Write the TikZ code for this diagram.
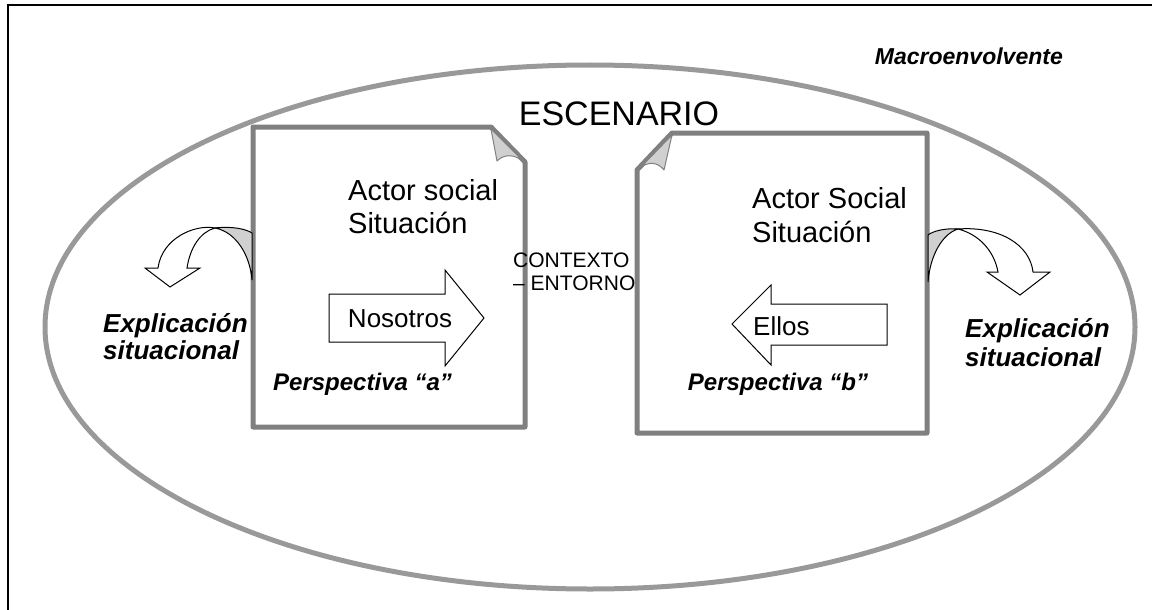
\documentclass[tikz,border=0pt]{standalone}
\usepackage{fontspec}
\setmainfont{Liberation Sans}
\usetikzlibrary{positioning}
\definecolor{griselipse}{HTML}{999999}
\definecolor{griscaja}{HTML}{808080}
\definecolor{grisclaro}{HTML}{D0D0D0}
\tikzset{
  caja/.style={draw=griscaja,line width=5pt,line join=round,fill=white},
  pliegue/.style={draw=griscaja,line width=1pt,fill=grisclaro,line join=round},
  lomo/.style={draw=black,line width=1pt,fill=grisclaro},
  flecha/.style={draw=black,line width=1pt,fill=white,line join=miter},
  texto/.style={inner sep=0pt,anchor=base west},
}
\newcommand{\tam}[1]{\fontsize{#1}{#1}\selectfont}

\begin{document}
\begin{tikzpicture}[x=1pt,y=-1pt]
  \useasboundingbox (0,0) rectangle (1152,610);
  \draw[line width=1.5pt] (8,610) -- (8,5) -- (1152,5);
  \draw[griselipse,line width=5pt] (590,327) ellipse [x radius=545pt,y radius=262pt];
  % actor a
  \draw[caja] (253,127) -- (491,127) -- (525,162) -- (525,427) -- (253,427) -- cycle;
  \draw[pliegue] (491,129) -- (497,161) .. controls (505,153) and (515,155) .. (523,161) -- cycle;
  % actor b
  \draw[caja] (637,170) -- (672,133) -- (927,133) -- (927,433) -- (637,433) -- cycle;
  \draw[pliegue] (672,135) -- (664,170) .. controls (657,161) and (647,162) .. (640,168) -- cycle;
  % flechas de bloque
  \draw[flecha] (329,294) -- (445,294) -- (445,270) -- (484,318) -- (445,366) -- (445,342) -- (329,342) -- cycle;
  \draw[flecha] (887,304) -- (771,304) -- (771,285) -- (732,324) -- (771,365) -- (771,345) -- (887,345) -- cycle;
  % flechas curvas
  \draw[lomo] (215,228) .. controls (232,226) and (246,229) .. (252,233) -- (252,280) .. controls (250,255) and (236,232) .. (215,228) -- cycle;
  \draw[flecha] (145,268) -- (170,287) -- (200,268) -- (187,268) .. controls (190,248) and (200,232) .. (215,228) .. controls (195,224) and (162,238) .. (158,268) -- cycle;
  \draw[lomo] (958,229) .. controls (945,228) and (933,231) .. (928,235) -- (928,282) .. controls (930,256) and (942,234) .. (958,229) -- cycle;
  \draw[flecha] (1050,272) -- (1020,295) -- (987,272) -- (998,272) .. controls (994,250) and (978,234) .. (958,229) .. controls (1000,226) and (1030,245) .. (1033,272) -- cycle;
  % textos
  \node[inner sep=0pt,anchor=base,font=\tam{34}] (esc) at (619,125) {ESCENARIO};
  \node[inner sep=0pt,anchor=base east,font=\tam{23}\bfseries\itshape] (macro) at (1063,65) {Macroenvolvente};
  \node[texto,font=\tam{29}] (actA) at (348,200) {Actor social};
  \node[texto,font=\tam{29}] (sitA) at ([yshift=-33pt]actA.base west) {Situación};
  \node[texto,font=\tam{29}] (actB) at (752,208) {Actor Social};
  \node[texto,font=\tam{29}] (sitB) at ([yshift=-34pt]actB.base west) {Situación};
  \node[texto,font=\tam{21}] (ctx) at (513,267) {CONTEXTO};
  \node[texto,font=\tam{21}] (ent) at ([yshift=-23pt]ctx.base west) {– ENTORNO};
  \node[inner sep=0pt,anchor=base,font=\tam{26}] (nos) at (400,327) {Nosotros};
  \node[texto,font=\tam{26}] (ell) at (753,335) {Ellos};
  \node[texto,font=\tam{24}\bfseries\itshape] (perA) at (273,390) {Perspectiva “a”};
  \node[inner sep=0pt,anchor=base,font=\tam{24}\bfseries\itshape] (perB) at (778,390) {Perspectiva “b”};
  \node[texto,font=\tam{26}\bfseries\itshape] (expA) at (103,332) {Explicación};
  \node[texto,font=\tam{26}\bfseries\itshape] (sitlA) at ([yshift=-27pt]expA.base west) {situacional};
  \node[texto,font=\tam{26}\bfseries\itshape] (expB) at (965,337) {Explicación};
  \node[texto,font=\tam{26}\bfseries\itshape] (sitlB) at ([yshift=-29pt]expB.base west) {situacional};
\end{tikzpicture}
\end{document}
